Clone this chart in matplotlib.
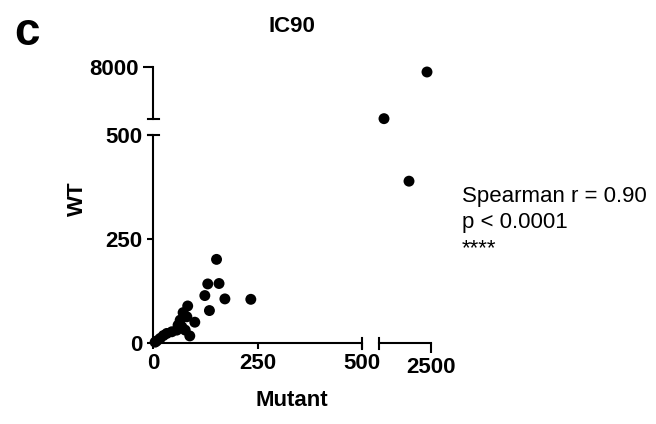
import matplotlib
matplotlib.use("Agg")
import matplotlib.pyplot as plt
from matplotlib.lines import Line2D
import numpy as np

plt.rcParams['font.family'] = ['Liberation Sans', 'DejaVu Sans']
plt.rcParams['font.weight'] = 'bold'

# IC90 values, mutant vs WT
mutant = [5, 9, 17, 25, 33, 45, 57, 60, 65, 69, 72, 77, 81, 83, 88, 100,
          124, 131, 135, 152, 158, 172, 234, 692, 1654, 2346]
wt = [2, 5, 11, 18, 23, 27, 31, 43, 55, 39, 73, 31, 63, 89, 17, 50,
      114, 142, 78, 201, 143, 106, 105, 550, 389, 7280]

x_lo, x_hi = (0, 500), (500, 2500)
y_lo, y_hi = (0, 500), (500, 8000)

W, H = 656, 424
fig = plt.figure(figsize=(W / 100, H / 100), dpi=100)


def box(x0, y0, x1, y1):
    # pixel box (top-left origin) -> figure fraction
    return [x0 / W, 1 - y1 / H, (x1 - x0) / W, (y1 - y0) / H]


def fx(px):
    return px / W


def fy(py):
    return 1 - py / H


ax_ll = fig.add_axes(box(153, 135, 362, 343))
ax_ul = fig.add_axes(box(153, 67, 362, 119))
ax_lr = fig.add_axes(box(379, 135, 431, 343))
ax_ur = fig.add_axes(box(379, 67, 431, 119))

mx = np.array(mutant)
wy = np.array(wt)
panels = [(ax_ll, x_lo, y_lo), (ax_ul, x_lo, y_hi),
          (ax_lr, x_hi, y_lo), (ax_ur, x_hi, y_hi)]
for ax, xl, yl in panels:
    ax.set_xlim(xl)
    ax.set_ylim(yl)
    ax.patch.set_visible(False)
    for s in ax.spines.values():
        s.set_visible(False)
        s.set_linewidth(1.5)
    ax.set_xticks([])
    ax.set_yticks([])
    ax.tick_params(width=1.5, length=4.5, labelsize=16, pad=3)
    m = (mx >= xl[0]) & (mx < xl[1]) & (wy >= yl[0]) & (wy < yl[1])
    if m.any():
        ax.scatter(mx[m], wy[m], s=62, color='black', edgecolors='none',
                   clip_on=False, zorder=3)

ax_ll.spines['left'].set_visible(True)
ax_ll.spines['bottom'].set_visible(True)
ax_ll.set_xticks([0, 250, 500])
ax_ll.set_yticks([0, 250, 500])

ax_ul.spines['left'].set_visible(True)
ax_ul.set_yticks([8000])
ax_ul.tick_params(length=7)

ax_lr.spines['bottom'].set_visible(True)
ax_lr.set_xticks([2500])
ax_lr.tick_params(length=7)

# break caps
lw = 1.5
for x0, y0, x1, y1 in [(148, 119, 159, 119), (148, 135, 159, 135),
                       (362, 338, 362, 349), (379, 338, 379, 349)]:
    fig.add_artist(Line2D([fx(x0), fx(x1)], [fy(y0), fy(y1)],
                          color='black', lw=lw))

fig.text(fx(292), fy(27), 'IC90', ha='center', va='center', fontsize=16)
fig.text(fx(14), fy(33), 'c', ha='left', va='center', fontsize=33)
fig.text(fx(292), fy(400), 'Mutant', ha='center', va='center', fontsize=16)
fig.text(fx(77), fy(199), 'WT', ha='center', va='center', fontsize=16,
         rotation=90)

stats = ['Spearman r = 0.90', 'p < 0.0001', '****']
for line, base in zip(stats, [202, 228, 254]):
    fig.text(fx(462), fy(base), line, ha='left', va='baseline',
             fontsize=16, fontweight='normal')

fig.savefig('out.png', dpi=100)
